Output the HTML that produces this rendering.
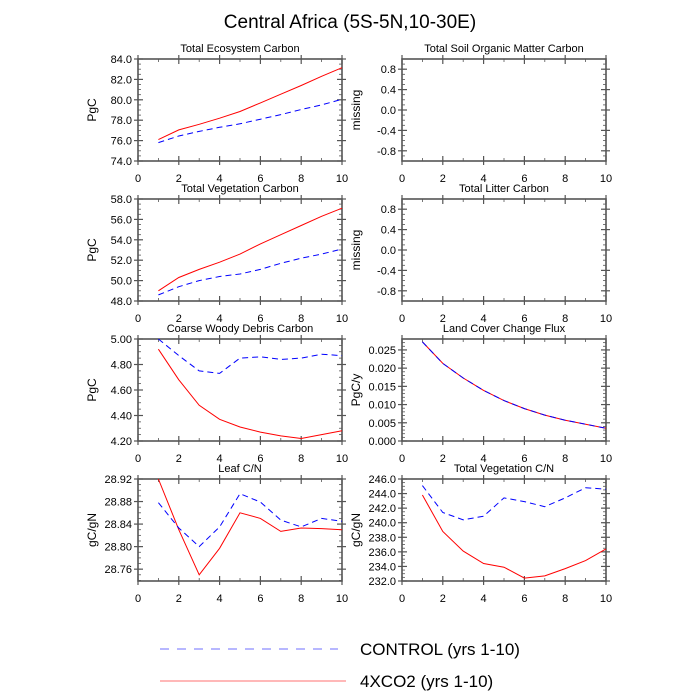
<!DOCTYPE html>
<html><head><meta charset="utf-8"><style>
body{margin:0;background:#fff}
svg{display:block;font-family:"Liberation Sans",sans-serif}
</style></head><body>
<svg id="c" width="700" height="700" viewBox="0 0 700 700">
<text x="350" y="28" text-anchor="middle" font-size="19">Central Africa (5S-5N,10-30E)</text>
<g>
<line x1="160" y1="649" x2="338" y2="649" stroke="#6f6fff" stroke-width="1" stroke-dasharray="9,8"/>
<text x="360" y="655" font-size="17">CONTROL (yrs 1-10)</text>
<line x1="160" y1="681" x2="346" y2="681" stroke="#ff7070" stroke-width="1"/>
<text x="360" y="687" font-size="17">4XCO2 (yrs 1-10)</text>
</g>
</svg>
<script>
const years=[1,2,3,4,5,6,7,8,9,10];
const tecCtl=[75.8,76.45,76.9,77.3,77.65,78.1,78.55,79.05,79.5,80.05];
const tecCo2=[76.1,77.05,77.6,78.2,78.85,79.7,80.55,81.4,82.3,83.15];
const tvcCtl=[48.6,49.4,50.0,50.4,50.65,51.1,51.7,52.2,52.6,53.1];
const tvcCo2=[49.0,50.3,51.1,51.8,52.6,53.6,54.5,55.4,56.3,57.1];
const cwdCtl=[5.0,4.87,4.75,4.73,4.85,4.86,4.84,4.85,4.88,4.87];
const cwdCo2=[4.92,4.68,4.48,4.37,4.31,4.27,4.24,4.22,4.25,4.28];
const lccCtl=[0.0272,0.0213,0.0173,0.0139,0.0111,0.0089,0.0071,0.0057,0.0046,0.0035];
const lccCo2=[0.0272,0.0213,0.0173,0.0139,0.0111,0.0089,0.0071,0.0057,0.0046,0.0035];
const leafCtl=[28.878,28.833,28.80,28.835,28.894,28.879,28.847,28.835,28.85,28.845];
const leafCo2=[28.92,28.83,28.75,28.797,28.86,28.85,28.827,28.833,28.832,28.830];
const vcnCtl=[245.1,241.4,240.4,240.9,243.4,242.9,242.2,243.4,244.8,244.6];
const vcnCo2=[243.8,238.8,236.1,234.4,233.9,232.4,232.7,233.7,234.8,236.4];
const xTicks=[0,2,4,6,8,10];
const tecTicks=[74,76,78,80,82,84];
const tvcTicks=[48,50,52,54,56,58];
const cwdTicks=[4.2,4.4,4.6,4.8,5.0];
const lccTicks=[0,0.005,0.01,0.015,0.02,0.025];
const leafTicks=[28.76,28.80,28.84,28.88,28.92];
const vcnTicks=[232,234,236,238,240,242,244,246];
const missTicks=[-0.8,-0.4,0,0.4,0.8];

const NS="http://www.w3.org/2000/svg";
const svg=document.getElementById('c');
function mk(tag,attrs,parent){const e=document.createElementNS(NS,tag);for(const k in attrs)e.setAttribute(k,attrs[k]);(parent||svg).appendChild(e);return e;}

const panels=[
 {t:"Total Ecosystem Carbon",yl:"PgC",col:0,row:0,ymin:74,ymax:84,ticks:tecTicks,minor:0.5,dec:1,ctl:tecCtl,co2:tecCo2,name:"total-ecosystem-carbon"},
 {t:"Total Soil Organic Matter Carbon",yl:"missing",col:1,row:0,ymin:-1,ymax:1,ticks:missTicks,minor:0.1,dec:1,name:"total-soil-organic-matter-carbon"},
 {t:"Total Vegetation Carbon",yl:"PgC",col:0,row:1,ymin:48,ymax:58,ticks:tvcTicks,minor:0.5,dec:1,ctl:tvcCtl,co2:tvcCo2,name:"total-vegetation-carbon"},
 {t:"Total Litter Carbon",yl:"missing",col:1,row:1,ymin:-1,ymax:1,ticks:missTicks,minor:0.1,dec:1,name:"total-litter-carbon"},
 {t:"Coarse Woody Debris Carbon",yl:"PgC",col:0,row:2,ymin:4.2,ymax:5.0,ticks:cwdTicks,minor:0.05,dec:2,ctl:cwdCtl,co2:cwdCo2,name:"coarse-woody-debris-carbon"},
 {t:"Land Cover Change Flux",yl:"PgC/y",col:1,row:2,ymin:0,ymax:0.028,ticks:lccTicks,minor:0.001,dec:3,ctl:lccCtl,co2:lccCo2,name:"land-cover-change-flux"},
 {t:"Leaf C/N",yl:"gC/gN",col:0,row:3,ymin:28.739,ymax:28.92,ticks:leafTicks,minor:0.01,dec:2,ctl:leafCtl,co2:leafCo2,name:"leaf-cn"},
 {t:"Total Vegetation C/N",yl:"gC/gN",col:1,row:3,ymin:232,ymax:246,ticks:vcnTicks,minor:0.5,dec:1,ctl:vcnCtl,co2:vcnCo2,name:"total-vegetation-cn"}
];
const W=204,H=102;
panels.forEach(p=>{
 const x0=p.col?402:138, y0=59+140*p.row;
 const g=mk('g',{});
 
 
 const sx=v=>x0+v/10*W, sy=v=>y0+H-(v-p.ymin)/(p.ymax-p.ymin)*H;
 const ax='#555';
 // minor y ticks
 const nmin=Math.ceil(p.ymin/p.minor-1e-6), nmax=Math.floor(p.ymax/p.minor+1e-6);
 for(let i=nmin;i<=nmax;i++){const y=sy(i*p.minor);
  const mt=mk('line',{x1:x0,x2:x0+3,y1:y,y2:y,stroke:ax,'stroke-width':0.8},g);
  
  
  const mt2=mk('line',{x1:x0+W,x2:x0+W-3,y1:y,y2:y,stroke:ax,'stroke-width':0.8},g);
  
  
 }
 for(let v=1;v<10;v+=2){const x=sx(v);
  mk('line',{x1:x,x2:x,y1:y0+H,y2:y0+H-3,stroke:ax,'stroke-width':0.8},g);
  mk('line',{x1:x,x2:x,y1:y0,y2:y0+3,stroke:ax,'stroke-width':0.8},g);
 }
 p.ticks.forEach(v=>{const y=sy(v);
  const tk=mk('line',{x1:x0-4,x2:x0+5,y1:y,y2:y,stroke:ax,'stroke-width':1.2},g);
  
  
  mk('line',{x1:x0+W+4,x2:x0+W-5,y1:y,y2:y,stroke:ax,'stroke-width':1.2},g);
  const lb=mk('text',{x:x0-6,y:y+4,'text-anchor':'end','font-size':11},g);
  lb.textContent=v.toFixed(p.dec);
  
  
 });
 xTicks.forEach(v=>{const x=sx(v);
  const tk=mk('line',{x1:x,x2:x,y1:y0+H+4,y2:y0+H-5,stroke:ax,'stroke-width':1.2},g);
  
  
  mk('line',{x1:x,x2:x,y1:y0-4,y2:y0+5,stroke:ax,'stroke-width':1.2},g);
  const lb=mk('text',{x:x,y:y0+H+21,'text-anchor':'middle','font-size':11},g);
  lb.textContent=v;
  
  
 });
 const fr=mk('rect',{x:x0,y:y0,width:W,height:H,fill:'none',stroke:ax,'stroke-width':1.6},g);
 
 
 const tt=mk('text',{x:x0+W/2,y:y0-7,'text-anchor':'middle','font-size':11},g);
 tt.textContent=p.t;
 
 
 const yt=mk('text',{x:0,y:0,'text-anchor':'middle','font-size':12,transform:`translate(${x0-42},${y0+H/2}) rotate(-90)`},g);
 yt.textContent=p.yl;
 
 
 if(p.ctl){
  const pts=a=>a.map((v,i)=>sx(years[i]).toFixed(1)+','+sy(v).toFixed(1)).join(' ');
  const l1=mk('polyline',{points:pts(p.co2),fill:'none',stroke:'#ff0000','stroke-width':1},g);
  
  
  const l2=mk('polyline',{points:pts(p.ctl),fill:'none',stroke:'#0000ff','stroke-width':1,'stroke-dasharray':'6,4'},g);
  
  
 }
});
</script>
</body></html>
